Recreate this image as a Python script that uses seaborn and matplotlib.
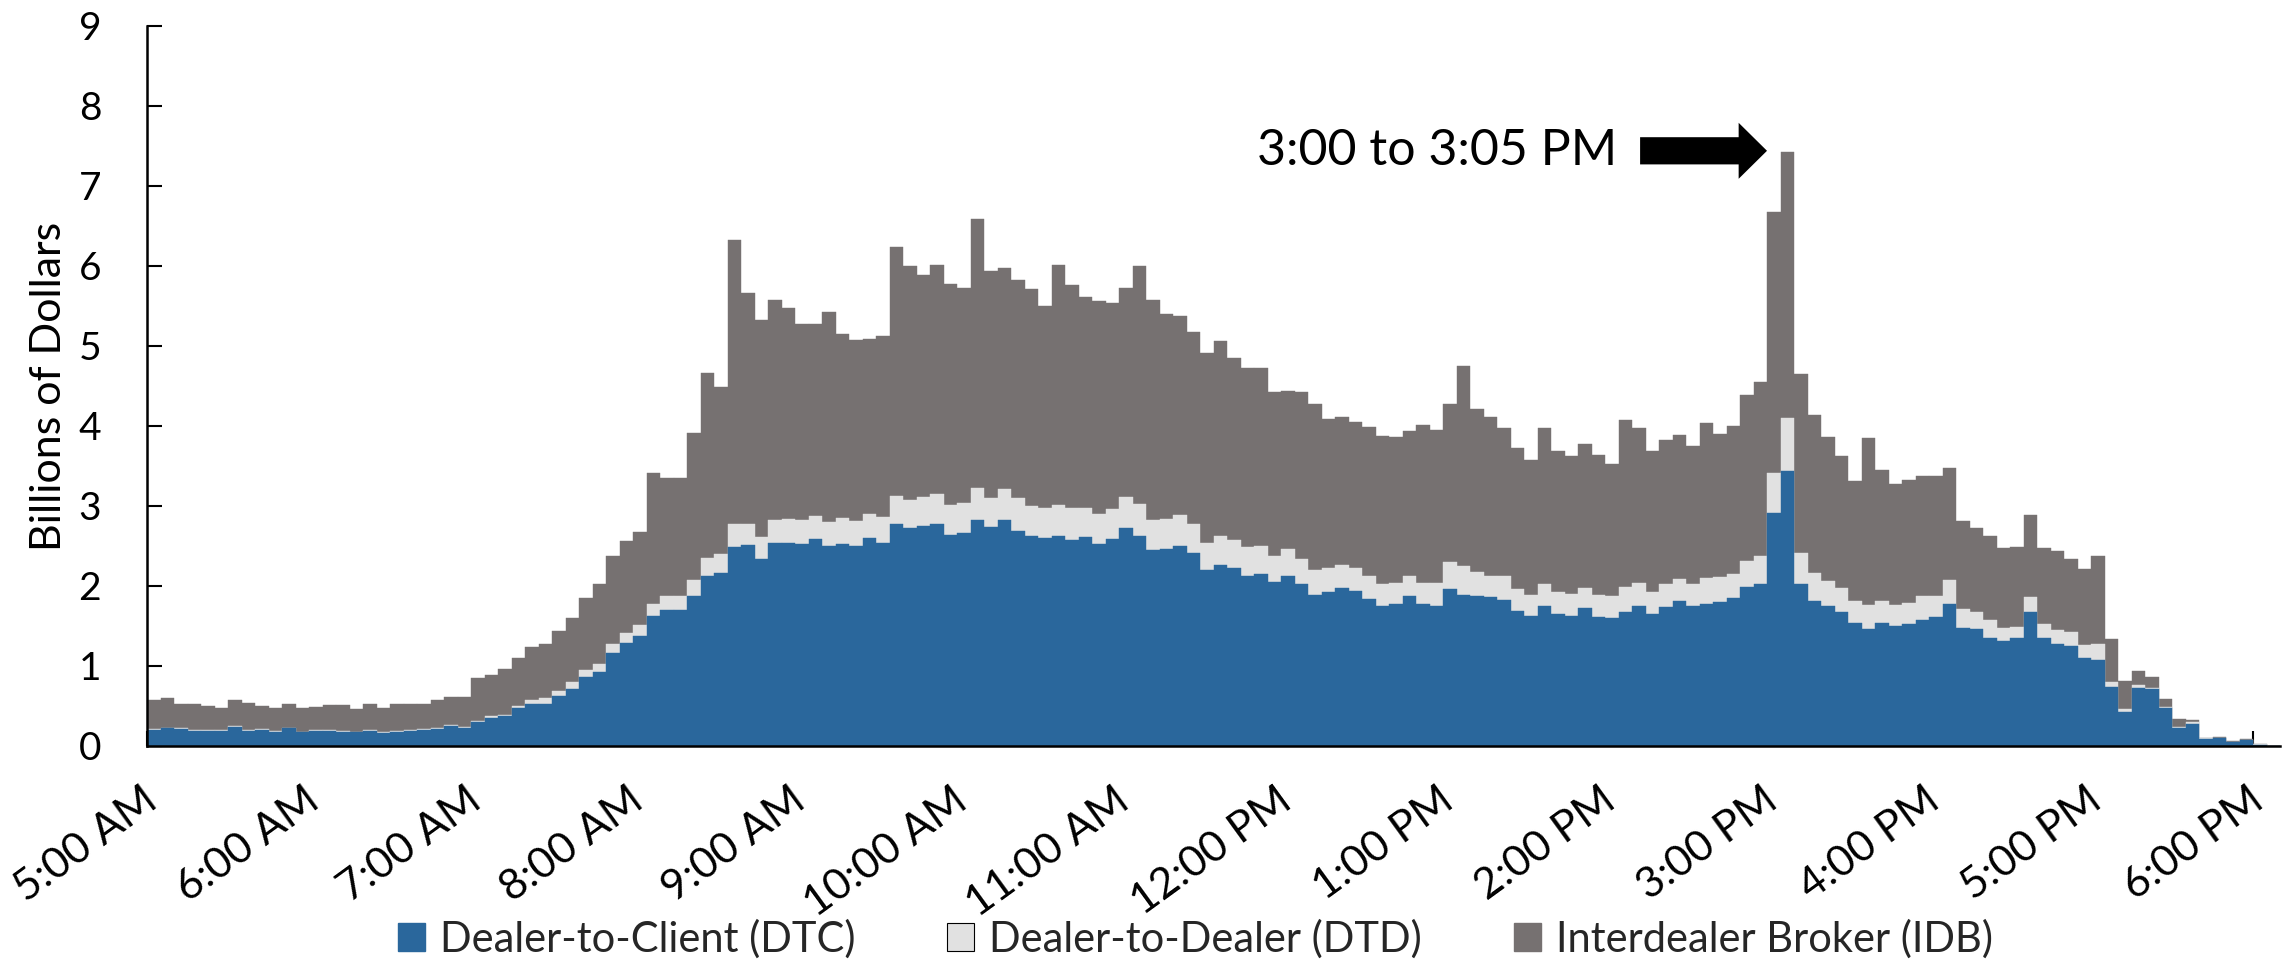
import matplotlib
matplotlib.use("Agg")
import matplotlib.pyplot as plt
import pandas as pd
import seaborn as sns
from matplotlib.patches import Patch
from matplotlib.transforms import ScaledTranslation

# 5-minute trading volume, billions of dollars (5:00 AM to 6:05 PM)
dtc = [0.20, 0.22, 0.21, 0.19, 0.19, 0.19, 0.24, 0.19, 0.20, 0.18, 0.22, 0.17,
       0.19, 0.19, 0.18, 0.17, 0.19, 0.16, 0.18, 0.19, 0.20, 0.21, 0.25, 0.23,
       0.30, 0.35, 0.37, 0.47, 0.53, 0.53, 0.62, 0.71, 0.86, 0.92, 1.16, 1.29,
       1.37, 1.62, 1.70, 1.70, 1.88, 2.13, 2.16, 2.49, 2.51, 2.34, 2.54, 2.54,
       2.53, 2.59, 2.50, 2.53, 2.50, 2.60, 2.54, 2.78, 2.73, 2.75, 2.77, 2.64,
       2.66, 2.82, 2.74, 2.82, 2.69, 2.63, 2.60, 2.62, 2.57, 2.61, 2.52, 2.59,
       2.73, 2.63, 2.45, 2.46, 2.50, 2.41, 2.20, 2.26, 2.23, 2.13, 2.15, 2.05,
       2.13, 2.02, 1.89, 1.93, 1.98, 1.94, 1.84, 1.75, 1.77, 1.87, 1.77, 1.75,
       1.96, 1.89, 1.87, 1.86, 1.83, 1.69, 1.62, 1.75, 1.65, 1.62, 1.72, 1.61,
       1.60, 1.68, 1.75, 1.65, 1.74, 1.81, 1.75, 1.78, 1.80, 1.85, 1.99, 2.03,
       2.91, 3.44, 2.02, 1.81, 1.75, 1.68, 1.54, 1.46, 1.54, 1.50, 1.52, 1.57,
       1.61, 1.77, 1.48, 1.46, 1.35, 1.31, 1.35, 1.68, 1.35, 1.28, 1.25, 1.10,
       1.07, 0.74, 0.43, 0.73, 0.71, 0.47, 0.23, 0.28, 0.09, 0.10, 0.05, 0.07,
       0.015, 0.005]

dtd = [0.01, 0.01, 0.01, 0.01, 0.01, 0.01, 0.01, 0.01, 0.01, 0.01, 0.01, 0.01,
       0.01, 0.01, 0.01, 0.01, 0.01, 0.01, 0.01, 0.01, 0.01, 0.01, 0.01, 0.01,
       0.01, 0.02, 0.02, 0.03, 0.04, 0.07, 0.07, 0.09, 0.09, 0.11, 0.11, 0.12,
       0.14, 0.15, 0.17, 0.17, 0.20, 0.22, 0.24, 0.29, 0.27, 0.27, 0.29, 0.30,
       0.30, 0.29, 0.30, 0.32, 0.31, 0.30, 0.32, 0.35, 0.35, 0.36, 0.38, 0.37,
       0.38, 0.40, 0.36, 0.39, 0.41, 0.37, 0.38, 0.39, 0.40, 0.37, 0.38, 0.37,
       0.38, 0.40, 0.37, 0.38, 0.39, 0.36, 0.34, 0.36, 0.34, 0.36, 0.35, 0.32,
       0.33, 0.32, 0.31, 0.30, 0.28, 0.29, 0.28, 0.27, 0.27, 0.26, 0.27, 0.29,
       0.34, 0.36, 0.31, 0.27, 0.29, 0.27, 0.27, 0.27, 0.27, 0.28, 0.26, 0.28,
       0.28, 0.31, 0.29, 0.27, 0.28, 0.28, 0.28, 0.32, 0.31, 0.30, 0.32, 0.35,
       0.50, 0.66, 0.39, 0.35, 0.31, 0.29, 0.27, 0.30, 0.27, 0.26, 0.27, 0.30,
       0.26, 0.30, 0.23, 0.21, 0.22, 0.17, 0.14, 0.18, 0.18, 0.17, 0.18, 0.16,
       0.21, 0.06, 0.03, 0.03, 0.02, 0.02, 0.01, 0.02, 0.005, 0.005, 0.005, 0.01,
       0.005, 0.0]

idb = [0.36, 0.37, 0.31, 0.32, 0.30, 0.28, 0.32, 0.34, 0.29, 0.29, 0.29, 0.29,
       0.29, 0.31, 0.32, 0.28, 0.32, 0.30, 0.34, 0.32, 0.32, 0.35, 0.35, 0.37,
       0.54, 0.52, 0.57, 0.60, 0.67, 0.68, 0.75, 0.80, 0.90, 1.00, 1.10, 1.15,
       1.17, 1.64, 1.48, 1.48, 1.83, 2.31, 2.09, 3.55, 2.88, 2.72, 2.75, 2.64,
       2.44, 2.40, 2.63, 2.30, 2.26, 2.19, 2.26, 3.11, 2.92, 2.78, 2.86, 2.76,
       2.69, 3.37, 2.84, 2.76, 2.73, 2.71, 2.52, 3.00, 2.79, 2.63, 2.66, 2.58,
       2.62, 2.97, 2.75, 2.56, 2.49, 2.40, 2.37, 2.44, 2.28, 2.24, 2.22, 2.06,
       1.98, 2.09, 2.08, 1.86, 1.85, 1.82, 1.87, 1.85, 1.82, 1.81, 1.97, 1.91,
       1.98, 2.50, 2.03, 1.98, 1.86, 1.76, 1.68, 1.95, 1.77, 1.72, 1.80, 1.75,
       1.65, 2.08, 1.93, 1.77, 1.81, 1.80, 1.72, 1.94, 1.79, 1.85, 2.08, 2.17,
       3.26, 3.33, 2.24, 1.98, 1.80, 1.65, 1.50, 2.09, 1.64, 1.52, 1.54, 1.51,
       1.51, 1.41, 1.10, 1.06, 1.05, 1.00, 1.00, 1.03, 0.94, 0.99, 0.91, 0.95,
       1.09, 0.54, 0.35, 0.18, 0.13, 0.10, 0.10, 0.02, 0.005, 0.01, 0.01, 0.01,
       0.005, 0.0]

hour_labels = ["5:00 AM", "6:00 AM", "7:00 AM", "8:00 AM", "9:00 AM", "10:00 AM",
               "11:00 AM", "12:00 PM", "1:00 PM", "2:00 PM", "3:00 PM", "4:00 PM",
               "5:00 PM", "6:00 PM"]

series_names = ["Dealer-to-Client (DTC)", "Dealer-to-Dealer (DTD)", "Interdealer Broker (IDB)"]
DTC_C = "#2A679C"
DTD_C = "#E1E1E1"
IDB_C = "#767171"

slots = [f"{5 + i // 12}:{(i % 12) * 5:02d}" for i in range(len(dtc))]
df = pd.DataFrame({"slot": slots, "dtc": dtc, "dtd": dtd, "idb": idb})
df["dtc_dtd"] = df["dtc"] + df["dtd"]
df["total"] = df["dtc_dtd"] + df["idb"]

sns.set_theme(style="ticks")
plt.rcParams["font.family"] = ["Lato", "DejaVu Sans"]

fig = plt.figure(figsize=(22.9, 9.61), dpi=100)
ax = fig.add_axes([147 / 2290, 1 - 746 / 961, 2133 / 2290, 720 / 961])

# stacked bars drawn as overlapping cumulative totals
for col, c in [("total", IDB_C), ("dtc_dtd", DTD_C), ("dtc", DTC_C)]:
    sns.barplot(data=df, x="slot", y=col, color=c, saturation=1, width=1,
                errorbar=None, edgecolor=c, linewidth=0.3, ax=ax)

ax.set_xlim(-0.5, len(slots) - 0.5)
ax.set_ylim(0, 9)
ax.set_yticks(range(10))
ax.set_xticks([12 * k - 0.5 for k in range(len(hour_labels))])
ax.set_xticklabels(hour_labels)
ax.set_xlabel("")
ax.set_ylabel("Billions of Dollars", fontsize=31, color="black")
ax.yaxis.set_label_coords(-0.037, 0.5)

sns.despine(ax=ax)
for s in ["left", "bottom"]:
    ax.spines[s].set_linewidth(1.8)
    ax.spines[s].set_color("black")

ax.tick_params(axis="y", direction="in", length=11, width=1.5, colors="black",
               labelsize=28, pad=33)
ax.tick_params(axis="x", direction="in", length=11, width=1.5, colors="black",
               labelsize=31, pad=25)
offset = ScaledTranslation(-0.05, 0, fig.dpi_scale_trans)
for lab in ax.get_xticklabels():
    lab.set_rotation(36)
    lab.set_ha("right")
    lab.set_rotation_mode("anchor")
    lab.set_transform(lab.get_transform() + offset)

# annotation for the 3:00 PM spike
ax.text(108.4, 7.44, "3:00 to 3:05 PM", ha="right", va="center", fontsize=36, color="black")
ax.arrow(110.1, 7.44, 9.4, 0, width=0.34, head_width=0.70, head_length=2.1,
         length_includes_head=True, color="black", linewidth=0)

handles = [Patch(facecolor=DTC_C, edgecolor=DTC_C),
           Patch(facecolor=DTD_C, edgecolor="black", linewidth=0.8),
           Patch(facecolor=IDB_C, edgecolor=IDB_C)]
fig.legend(handles, series_names, loc="center", bbox_to_anchor=(0.522, 0.023),
           ncol=3, frameon=False, fontsize=30, handlelength=0.65, handleheight=0.68,
           handletextpad=0.36, columnspacing=2.2, borderpad=0.0)

fig.savefig("out.png", dpi=100)
